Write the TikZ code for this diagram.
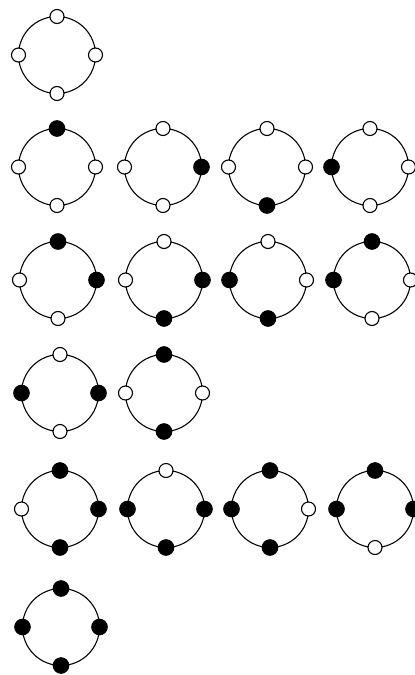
\documentclass[tikz,border=0pt]{standalone}
\begin{document}
\begin{tikzpicture}[x=1pt,y=1pt,line width=1.1pt,
  hole/.style={circle,draw,fill=white,inner sep=0pt,minimum size=14pt},
  bead/.style={circle,draw,fill=black,inner sep=0pt,minimum size=15.5pt}]
 \useasboundingbox (0,0) rectangle (415,-675);
 \foreach \cx/\cy/\t/\r/\d/\l [count=\i] in {
   57/55/hole/hole/hole/hole,
   57/167/bead/hole/hole/hole, 163/167/hole/bead/hole/hole,
   267/167/hole/hole/bead/hole, 370/167/hole/hole/hole/bead,
   58/280/bead/bead/hole/hole, 164/280/hole/bead/bead/hole,
   268/280/hole/hole/bead/bead, 372/280/bead/hole/hole/bead,
   60/393/hole/bead/hole/bead, 164/393/bead/hole/bead/hole,
   60/509/bead/bead/bead/hole, 166/509/hole/bead/bead/bead,
   270/509/bead/hole/bead/bead, 375/509/bead/bead/hole/bead,
   61/627/bead/bead/bead/bead} {
  \coordinate (c\i) at (\cx,-\cy);
  \draw (c\i) circle[radius=38.5];
  \node[\t] (c\i-t) at ([yshift=38.5pt]c\i) {};
  \node[\r] (c\i-r) at ([xshift=38.5pt]c\i) {};
  \node[\d] (c\i-b) at ([yshift=-38.5pt]c\i) {};
  \node[\l] (c\i-l) at ([xshift=-38.5pt]c\i) {};
 }
\end{tikzpicture}
\end{document}
